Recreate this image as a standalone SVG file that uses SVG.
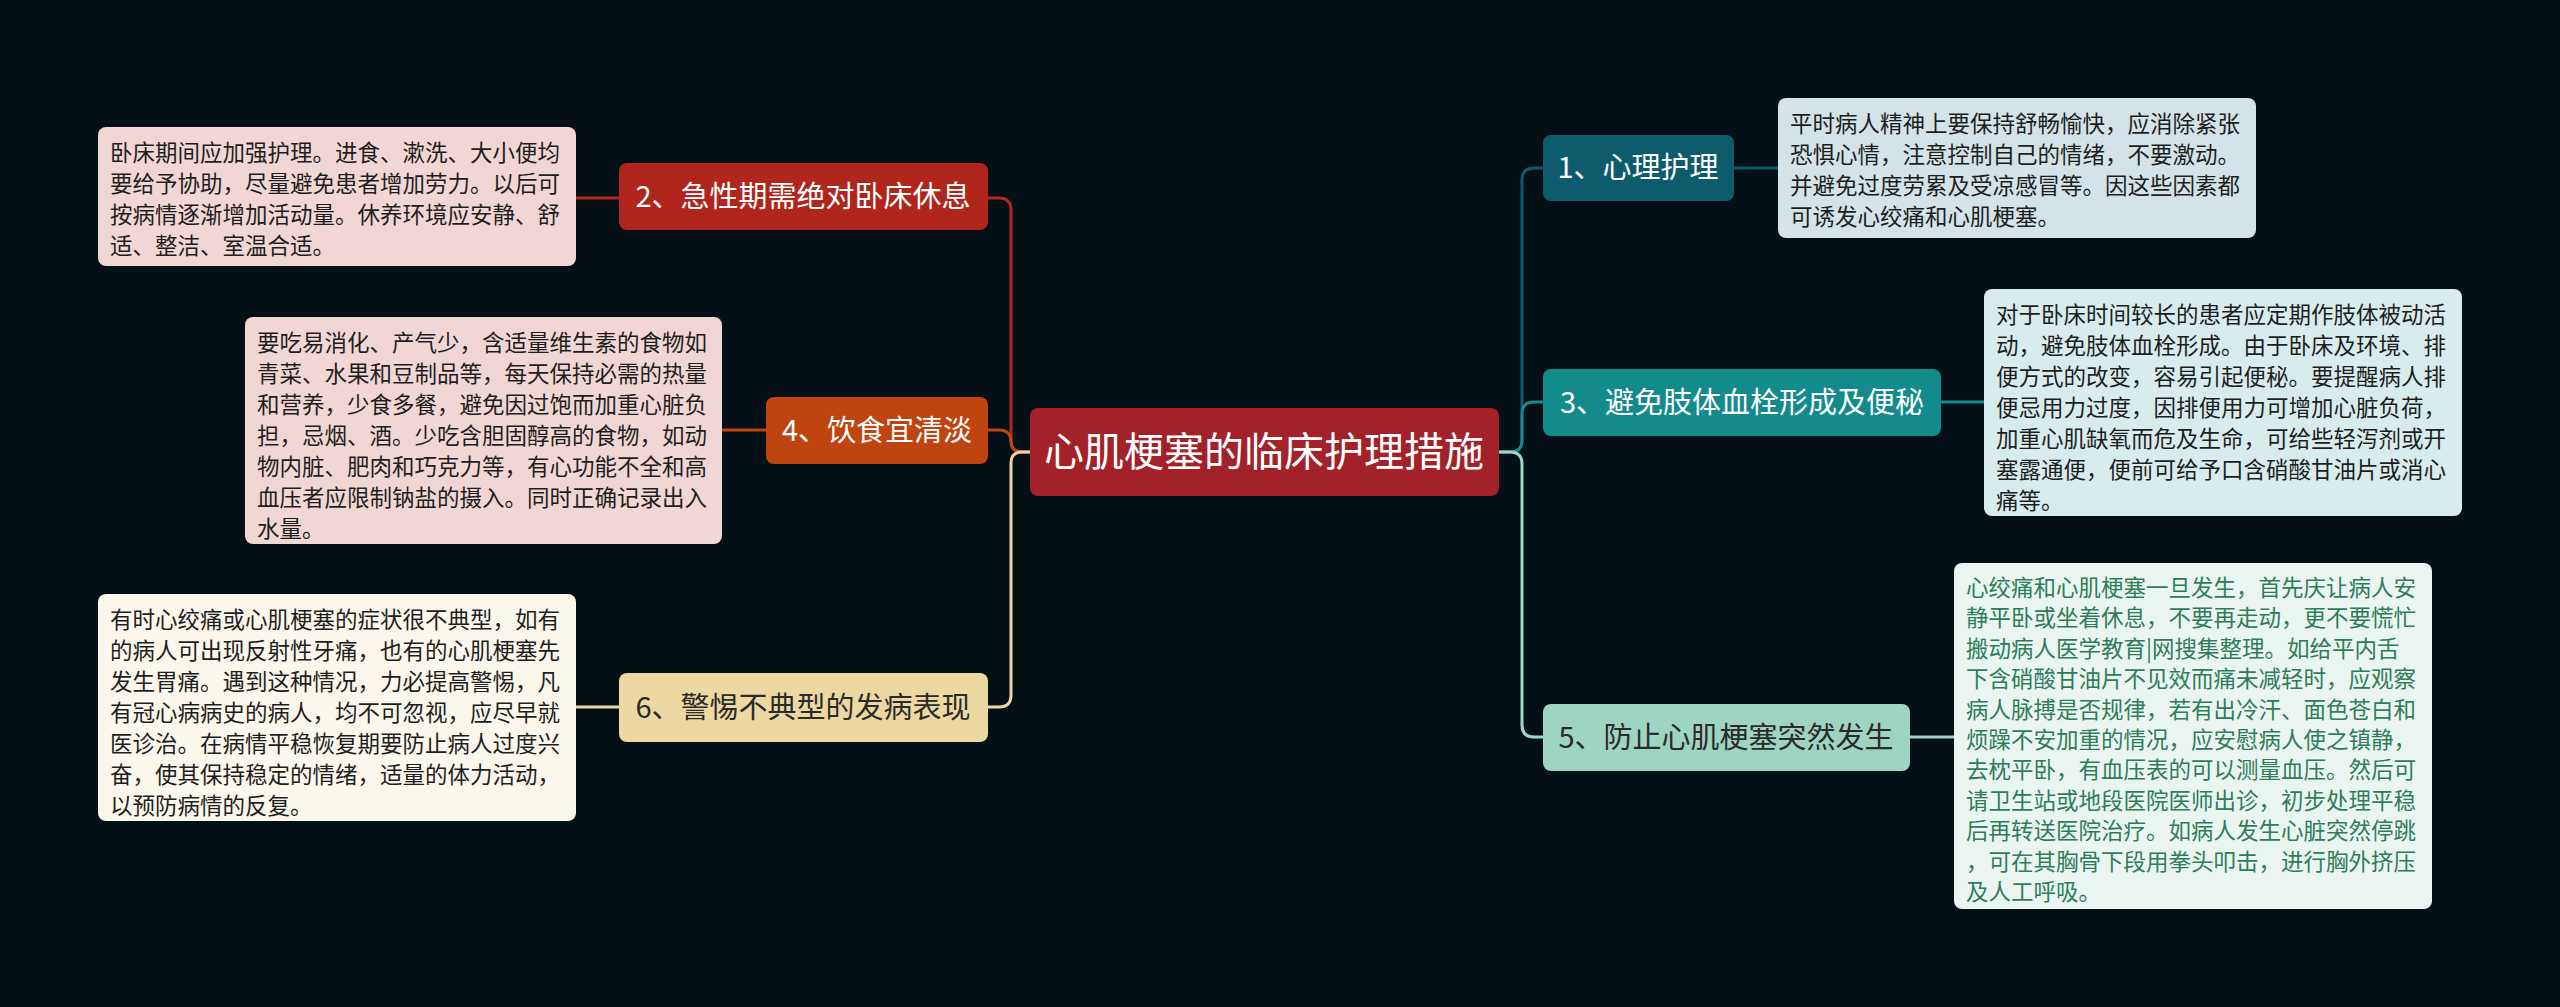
<svg xmlns="http://www.w3.org/2000/svg" width="2560" height="1007" viewBox="0 0 2560 1007">
<style>
text{font-family:"Noto Sans CJK SC","Noto Sans",sans-serif}
.lbl{font-size:29px;fill:#fff}
.dk{fill:#2b2b2b}
.bt{font-size:22.5px;fill:#1e1e1e}
.ln{fill:none;stroke-width:3}
</style>
<rect width="2560" height="1007" fill="#050f16"/>
<g id="connectors">
<path class="ln" stroke="#b0261c" d="M1030 452 H1022 Q1011 452 1011 441 V210 Q1011 198 999 198 H988"/>
<path class="ln" stroke="#c0440f" d="M1030 452 H1022 Q1011 452 1011 441 V442 Q1011 430 999 430 H988"/>
<path class="ln" stroke="#ecd9a2" d="M1030 452 H1022 Q1011 452 1011 463 V695 Q1011 707 999 707 H988"/>
<path class="ln" stroke="#0e5b6e" d="M1499 452 H1510 Q1522 452 1522 440 V180 Q1522 168 1534 168 H1543"/>
<path class="ln" stroke="#138a8c" d="M1499 452 H1510 Q1522 452 1522 440 V414 Q1522 402 1534 402 H1543"/>
<path class="ln" stroke="#9ed5c2" d="M1499 452 H1510 Q1522 452 1522 464 V725 Q1522 737 1534 737 H1543"/>
<path class="ln" stroke="#b0261c" d="M619 198 H576"/>
<path class="ln" stroke="#c0440f" d="M766 430 H722"/>
<path class="ln" stroke="#ecd9a2" d="M619 707 H576"/>
<path class="ln" stroke="#0e5b6e" d="M1734 168 H1778"/>
<path class="ln" stroke="#138a8c" d="M1941 402 H1984"/>
<path class="ln" stroke="#9ed5c2" d="M1910 737 H1954"/>
</g>
<g id="center"><rect x="1030" y="408" width="469" height="88" rx="8" fill="#a3222a"/><text x="1264" y="466" text-anchor="middle" font-size="40" fill="#fff">心肌梗塞的临床护理措施</text></g>
<g id="n2"><rect x="619" y="163" width="369" height="67" rx="8" fill="#b0261c"/><text class="lbl" x="803" y="207" text-anchor="middle">2、急性期需绝对卧床休息</text></g>
<g id="n4"><rect x="766" y="397" width="222" height="67" rx="8" fill="#c0440f"/><text class="lbl" x="877" y="441" text-anchor="middle">4、饮食宜清淡</text></g>
<g id="n6"><rect x="619" y="673" width="369" height="69" rx="8" fill="#ecd9a2"/><text class="lbl dk" x="803" y="718" text-anchor="middle">6、警惕不典型的发病表现</text></g>
<g id="n1"><rect x="1543" y="135" width="191" height="66" rx="8" fill="#0e5b6e"/><text class="lbl" x="1638" y="178" text-anchor="middle">1、心理护理</text></g>
<g id="n3"><rect x="1543" y="369" width="398" height="67" rx="8" fill="#138a8c"/><text class="lbl" x="1742" y="413" text-anchor="middle">3、避免肢体血栓形成及便秘</text></g>
<g id="n5"><rect x="1543" y="704" width="367" height="67" rx="8" fill="#9ed5c2"/><text class="lbl dk" x="1726" y="748" text-anchor="middle">5、防止心肌梗塞突然发生</text></g>
<g id="b2"><rect x="98" y="127" width="478" height="139" rx="8" fill="#f0d6d5"/>
<text class="bt" x="110" y="161"><tspan x="110">卧床期间应加强护理。进食、漱洗、大小便均</tspan><tspan x="110" dy="31">要给予协助，尽量避免患者增加劳力。以后可</tspan><tspan x="110" dy="31">按病情逐渐增加活动量。休养环境应安静、舒</tspan><tspan x="110" dy="31">适、整洁、室温合适。</tspan></text></g>
<g id="b4"><rect x="245" y="317" width="477" height="227" rx="8" fill="#f0d6d5"/>
<text class="bt" x="257" y="351"><tspan x="257">要吃易消化、产气少，含适量维生素的食物如</tspan><tspan x="257" dy="31">青菜、水果和豆制品等，每天保持必需的热量</tspan><tspan x="257" dy="31">和营养，少食多餐，避免因过饱而加重心脏负</tspan><tspan x="257" dy="31">担，忌烟、酒。少吃含胆固醇高的食物，如动</tspan><tspan x="257" dy="31">物内脏、肥肉和巧克力等，有心功能不全和高</tspan><tspan x="257" dy="31">血压者应限制钠盐的摄入。同时正确记录出入</tspan><tspan x="257" dy="31">水量。</tspan></text></g>
<g id="b6"><rect x="98" y="594" width="478" height="227" rx="8" fill="#fbf7ec"/>
<text class="bt" x="110" y="628"><tspan x="110">有时心绞痛或心肌梗塞的症状很不典型，如有</tspan><tspan x="110" dy="31">的病人可出现反射性牙痛，也有的心肌梗塞先</tspan><tspan x="110" dy="31">发生胃痛。遇到这种情况，力必提高警惕，凡</tspan><tspan x="110" dy="31">有冠心病病史的病人，均不可忽视，应尽早就</tspan><tspan x="110" dy="31">医诊治。在病情平稳恢复期要防止病人过度兴</tspan><tspan x="110" dy="31">奋，使其保持稳定的情绪，适量的体力活动，</tspan><tspan x="110" dy="31">以预防病情的反复。</tspan></text></g>
<g id="b1"><rect x="1778" y="98" width="478" height="140" rx="8" fill="#d3e3e8"/>
<text class="bt" x="1790" y="132"><tspan x="1790">平时病人精神上要保持舒畅愉快，应消除紧张</tspan><tspan x="1790" dy="31">恐惧心情，注意控制自己的情绪，不要激动。</tspan><tspan x="1790" dy="31">并避免过度劳累及受凉感冒等。因这些因素都</tspan><tspan x="1790" dy="31">可诱发心绞痛和心肌梗塞。</tspan></text></g>
<g id="b3"><rect x="1984" y="289" width="478" height="227" rx="8" fill="#d8ecee"/>
<text class="bt" x="1996" y="323"><tspan x="1996">对于卧床时间较长的患者应定期作肢体被动活</tspan><tspan x="1996" dy="31">动，避免肢体血栓形成。由于卧床及环境、排</tspan><tspan x="1996" dy="31">便方式的改变，容易引起便秘。要提醒病人排</tspan><tspan x="1996" dy="31">便忌用力过度，因排便用力可增加心脏负荷，</tspan><tspan x="1996" dy="31">加重心肌缺氧而危及生命，可给些轻泻剂或开</tspan><tspan x="1996" dy="31">塞露通便，便前可给予口含硝酸甘油片或消心</tspan><tspan x="1996" dy="31">痛等。</tspan></text></g>
<g id="b5"><rect x="1954" y="563" width="478" height="346" rx="8" fill="#eaf5f1"/>
<text class="bt" x="1966" y="596" style="fill:#2e7d5a"><tspan x="1966">心绞痛和心肌梗塞一旦发生，首先庆让病人安</tspan><tspan x="1966" dy="30.4">静平卧或坐着休息，不要再走动，更不要慌忙</tspan><tspan x="1966" dy="30.4">搬动病人医学教育|网搜集整理。如给平内舌</tspan><tspan x="1966" dy="30.4">下含硝酸甘油片不见效而痛未减轻时，应观察</tspan><tspan x="1966" dy="30.4">病人脉搏是否规律，若有出冷汗、面色苍白和</tspan><tspan x="1966" dy="30.4">烦躁不安加重的情况，应安慰病人使之镇静，</tspan><tspan x="1966" dy="30.4">去枕平卧，有血压表的可以测量血压。然后可</tspan><tspan x="1966" dy="30.4">请卫生站或地段医院医师出诊，初步处理平稳</tspan><tspan x="1966" dy="30.4">后再转送医院治疗。如病人发生心脏突然停跳</tspan><tspan x="1966" dy="30.4">，可在其胸骨下段用拳头叩击，进行胸外挤压</tspan><tspan x="1966" dy="30.4">及人工呼吸。</tspan></text></g>
</svg>
